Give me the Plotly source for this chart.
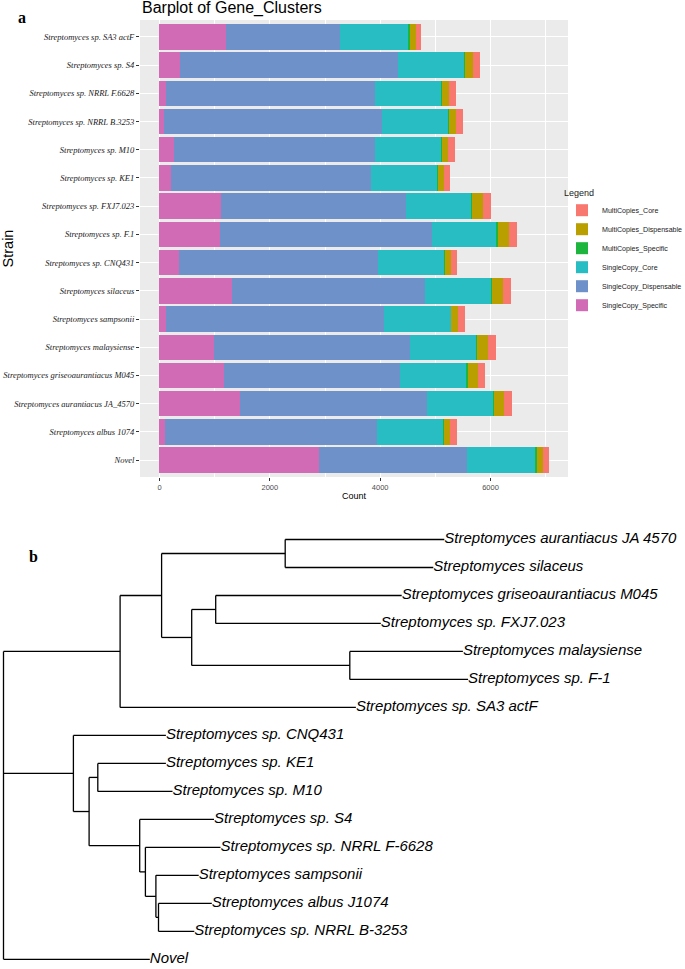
import plotly.graph_objects as go

W, H = 685, 969

# ---------------- Panel a : stacked barplot ----------------
strains = [
    "Streptomyces sp. SA3 actF", "Streptomyces sp. S4", "Streptomyces sp. NRRL F.6628",
    "Streptomyces sp. NRRL B.3253", "Streptomyces sp. M10", "Streptomyces sp. KE1",
    "Streptomyces sp. FXJ7.023", "Streptomyces sp. F.1", "Streptomyces sp. CNQ431",
    "Streptomyces silaceus", "Streptomyces sampsonii", "Streptomyces malaysiense",
    "Streptomyces griseoaurantiacus M045", "Streptomyces aurantiacus JA_4570",
    "Streptomyces albus 1074", "Novel",
]

single_specific    = [1205, 372, 118, 76, 257, 214, 1115, 1091, 360, 1320, 112, 982, 1163, 1459, 94, 2897]
single_dispensable = [2067, 3945, 3794, 3957, 3655, 3620, 3347, 3843, 3595, 3498, 3963, 3559, 3196, 3390, 3848, 2677]
single_core        = [1238, 1215, 1208, 1208, 1208, 1208, 1190, 1183, 1214, 1196, 1209, 1196, 1211, 1196, 1209, 1238]
multi_specific     = [31, 4, 3, 3, 3, 3, 12, 12, 3, 12, 3, 15, 15, 15, 3, 31]
multi_dispensable  = [102, 138, 127, 121, 109, 115, 206, 200, 115, 200, 127, 197, 190, 179, 109, 103]
multi_core         = [91, 127, 115, 127, 115, 114, 139, 157, 114, 140, 126, 145, 121, 145, 127, 109]

series_names = ["SingleCopy_Specific", "SingleCopy_Dispensable", "SingleCopy_Core",
                "MultiCopies_Specific", "MultiCopies_Dispensable", "MultiCopies_Core"]
series_values = [single_specific, single_dispensable, single_core,
                 multi_specific, multi_dispensable, multi_core]
series_colors = ["#D26BB6", "#6E91C9", "#27BDC3", "#1DB53D", "#B9A000", "#F8786F"]

x_ticks = [0, 2000, 4000, 6000]

# ---------------- Panel b : dendrogram ----------------
leaf_names = [
    "Streptomyces aurantiacus JA 4570", "Streptomyces silaceus",
    "Streptomyces griseoaurantiacus M045", "Streptomyces sp. FXJ7.023",
    "Streptomyces malaysiense", "Streptomyces sp. F-1", "Streptomyces sp. SA3 actF",
    "Streptomyces sp. CNQ431", "Streptomyces sp. KE1", "Streptomyces sp. M10",
    "Streptomyces sp. S4", "Streptomyces sp. NRRL F-6628", "Streptomyces sampsonii",
    "Streptomyces albus J1074", "Streptomyces sp. NRRL B-3253", "Novel",
]
leaf_depth = [4.408, 4.298, 3.982, 3.773, 4.594, 4.646, 3.524,
              1.624, 1.624, 1.690, 2.105, 2.170, 1.952, 2.083, 1.908, 1.463]

node_names = ["root", "A", "B", "C", "D", "E", "F", "G", "H", "I", "J", "K", "L", "M"]
node_depth = [0.0, 1.166, 1.581, 2.817, 1.882, 2.122, 3.463,
              0.699, 0.856, 0.943, 1.362, 1.419, 1.524, 1.550]
node_children = [
    ["A", "G", "Novel"],
    ["B", "Streptomyces sp. SA3 actF"],
    ["C", "D"],
    ["Streptomyces aurantiacus JA 4570", "Streptomyces silaceus"],
    ["E", "F"],
    ["Streptomyces griseoaurantiacus M045", "Streptomyces sp. FXJ7.023"],
    ["Streptomyces malaysiense", "Streptomyces sp. F-1"],
    ["Streptomyces sp. CNQ431", "H"],
    ["I", "J"],
    ["Streptomyces sp. KE1", "Streptomyces sp. M10"],
    ["Streptomyces sp. S4", "K"],
    ["Streptomyces sp. NRRL F-6628", "L"],
    ["Streptomyces sampsonii", "M"],
    ["Streptomyces albus J1074", "Streptomyces sp. NRRL B-3253"],
]

# ---------------- build figure ----------------
fig = go.Figure()

for name, vals, col in zip(series_names, series_values, series_colors):
    fig.add_trace(go.Bar(
        x=vals, y=strains, orientation="h", name=name, width=0.9,
        marker=dict(color=col, line=dict(width=0)),
        xaxis="x", yaxis="y",
    ))

# tree geometry from the data
depth = {n: d for n, d in zip(node_names, node_depth)}
depth.update({n: d for n, d in zip(leaf_names, leaf_depth)})
children = dict(zip(node_names, node_children))
ypos = {n: i for i, n in enumerate(leaf_names)}


def node_y(n):
    if n in ypos:
        return ypos[n]
    ys = [node_y(c) for c in children[n]]
    ypos[n] = (min(ys) + max(ys)) / 2
    return ypos[n]


for n in node_names:
    node_y(n)

tx, ty = [], []
for n in node_names:
    cy = [ypos[c] for c in children[n]]
    tx += [depth[n], depth[n], None]
    ty += [min(cy), max(cy), None]
    for c in children[n]:
        tx += [depth[n], depth[c], None]
        ty += [ypos[c], ypos[c], None]

fig.add_trace(go.Scatter(
    x=tx, y=ty, mode="lines", line=dict(color="black", width=1.3),
    showlegend=False, hoverinfo="skip", xaxis="x2", yaxis="y2",
))
fig.add_trace(go.Scatter(
    x=leaf_depth, y=list(range(len(leaf_names))), mode="text", text=leaf_names,
    textposition="middle right",
    textfont=dict(family="Liberation Sans", size=15, color="black", style="italic"),
    showlegend=False, hoverinfo="skip", xaxis="x2", yaxis="y2",
))


def px_x(p):
    return p / W


def px_y(p):
    return 1 - p / H


fig.update_layout(
    width=W, height=H,
    margin=dict(l=0, r=0, t=0, b=0, autoexpand=False),
    paper_bgcolor="white", plot_bgcolor="rgba(0,0,0,0)",
    barmode="stack", bargap=0.1,
    font=dict(family="Liberation Sans", color="black"),
    xaxis=dict(
        domain=[px_x(140), px_x(568)], range=[-353, 7404], anchor="y", automargin=False,
        tickvals=x_ticks, showgrid=True, gridcolor="white", gridwidth=1.1,
        minor=dict(tickvals=[1000, 3000, 5000, 7000], showgrid=True,
                   gridcolor="white", gridwidth=0.5),
        ticks="outside", ticklen=3, tickcolor="#333333", tickwidth=1,
        tickfont=dict(size=7.5, color="#4d4d4d"),
        title=dict(text="Count", font=dict(size=9, color="black"), standoff=1),
        zeroline=False, showline=False, fixedrange=True,
    ),
    yaxis=dict(
        domain=[px_y(477), px_y(20)], anchor="x", type="category", automargin=False,
        categoryorder="array", categoryarray=strains[::-1], range=[-0.6, 15.6],
        showgrid=True, gridcolor="white", gridwidth=1.1,
        ticks="outside", ticklen=3, tickcolor="#333333", tickwidth=1,
        tickfont=dict(family="Liberation Serif", size=8.5, color="#1a1a1a", style="italic"),
        title=dict(text="Strain", font=dict(size=14.5, color="black"), standoff=2),
        zeroline=False, showline=False, fixedrange=True,
    ),
    xaxis2=dict(domain=[0, 1], range=[-0.035, 6.815], anchor="y2", visible=False,
                fixedrange=True, automargin=False),
    yaxis2=dict(domain=[0, px_y(525)], range=[15.345, -0.518], anchor="x2",
                visible=False, fixedrange=True, automargin=False),
    legend=dict(
        x=px_x(562), xanchor="left", y=px_y(252), yanchor="middle",
        traceorder="reversed", bgcolor="rgba(0,0,0,0)",
        title=dict(text="Legend", font=dict(size=9)),
        font=dict(size=7.1, color="#1a1a1a"), itemwidth=30,
        tracegroupgap=0,
    ),
    shapes=[dict(type="rect", xref="x domain", yref="y domain", x0=0, x1=1, y0=0, y1=1,
                 fillcolor="#EBEBEB", line=dict(width=0), layer="below")],
    annotations=[
        dict(text="Barplot of Gene_Clusters", x=px_x(140), xref="paper", xanchor="left",
             y=px_y(8), yref="paper", yanchor="middle", showarrow=False,
             font=dict(size=16, color="black")),
        dict(text="<b>a</b>", x=px_x(22), xref="paper", xanchor="center",
             y=px_y(17), yref="paper", yanchor="middle", showarrow=False,
             font=dict(family="Liberation Serif", size=16, color="black")),
        dict(text="<b>b</b>", x=px_x(33), xref="paper", xanchor="center",
             y=px_y(556), yref="paper", yanchor="middle", showarrow=False,
             font=dict(family="Liberation Serif", size=16, color="black")),
    ],
)

fig.write_html("out.html", config={"displayModeBar": False},
               post_script="document.body.style.margin='0';")
